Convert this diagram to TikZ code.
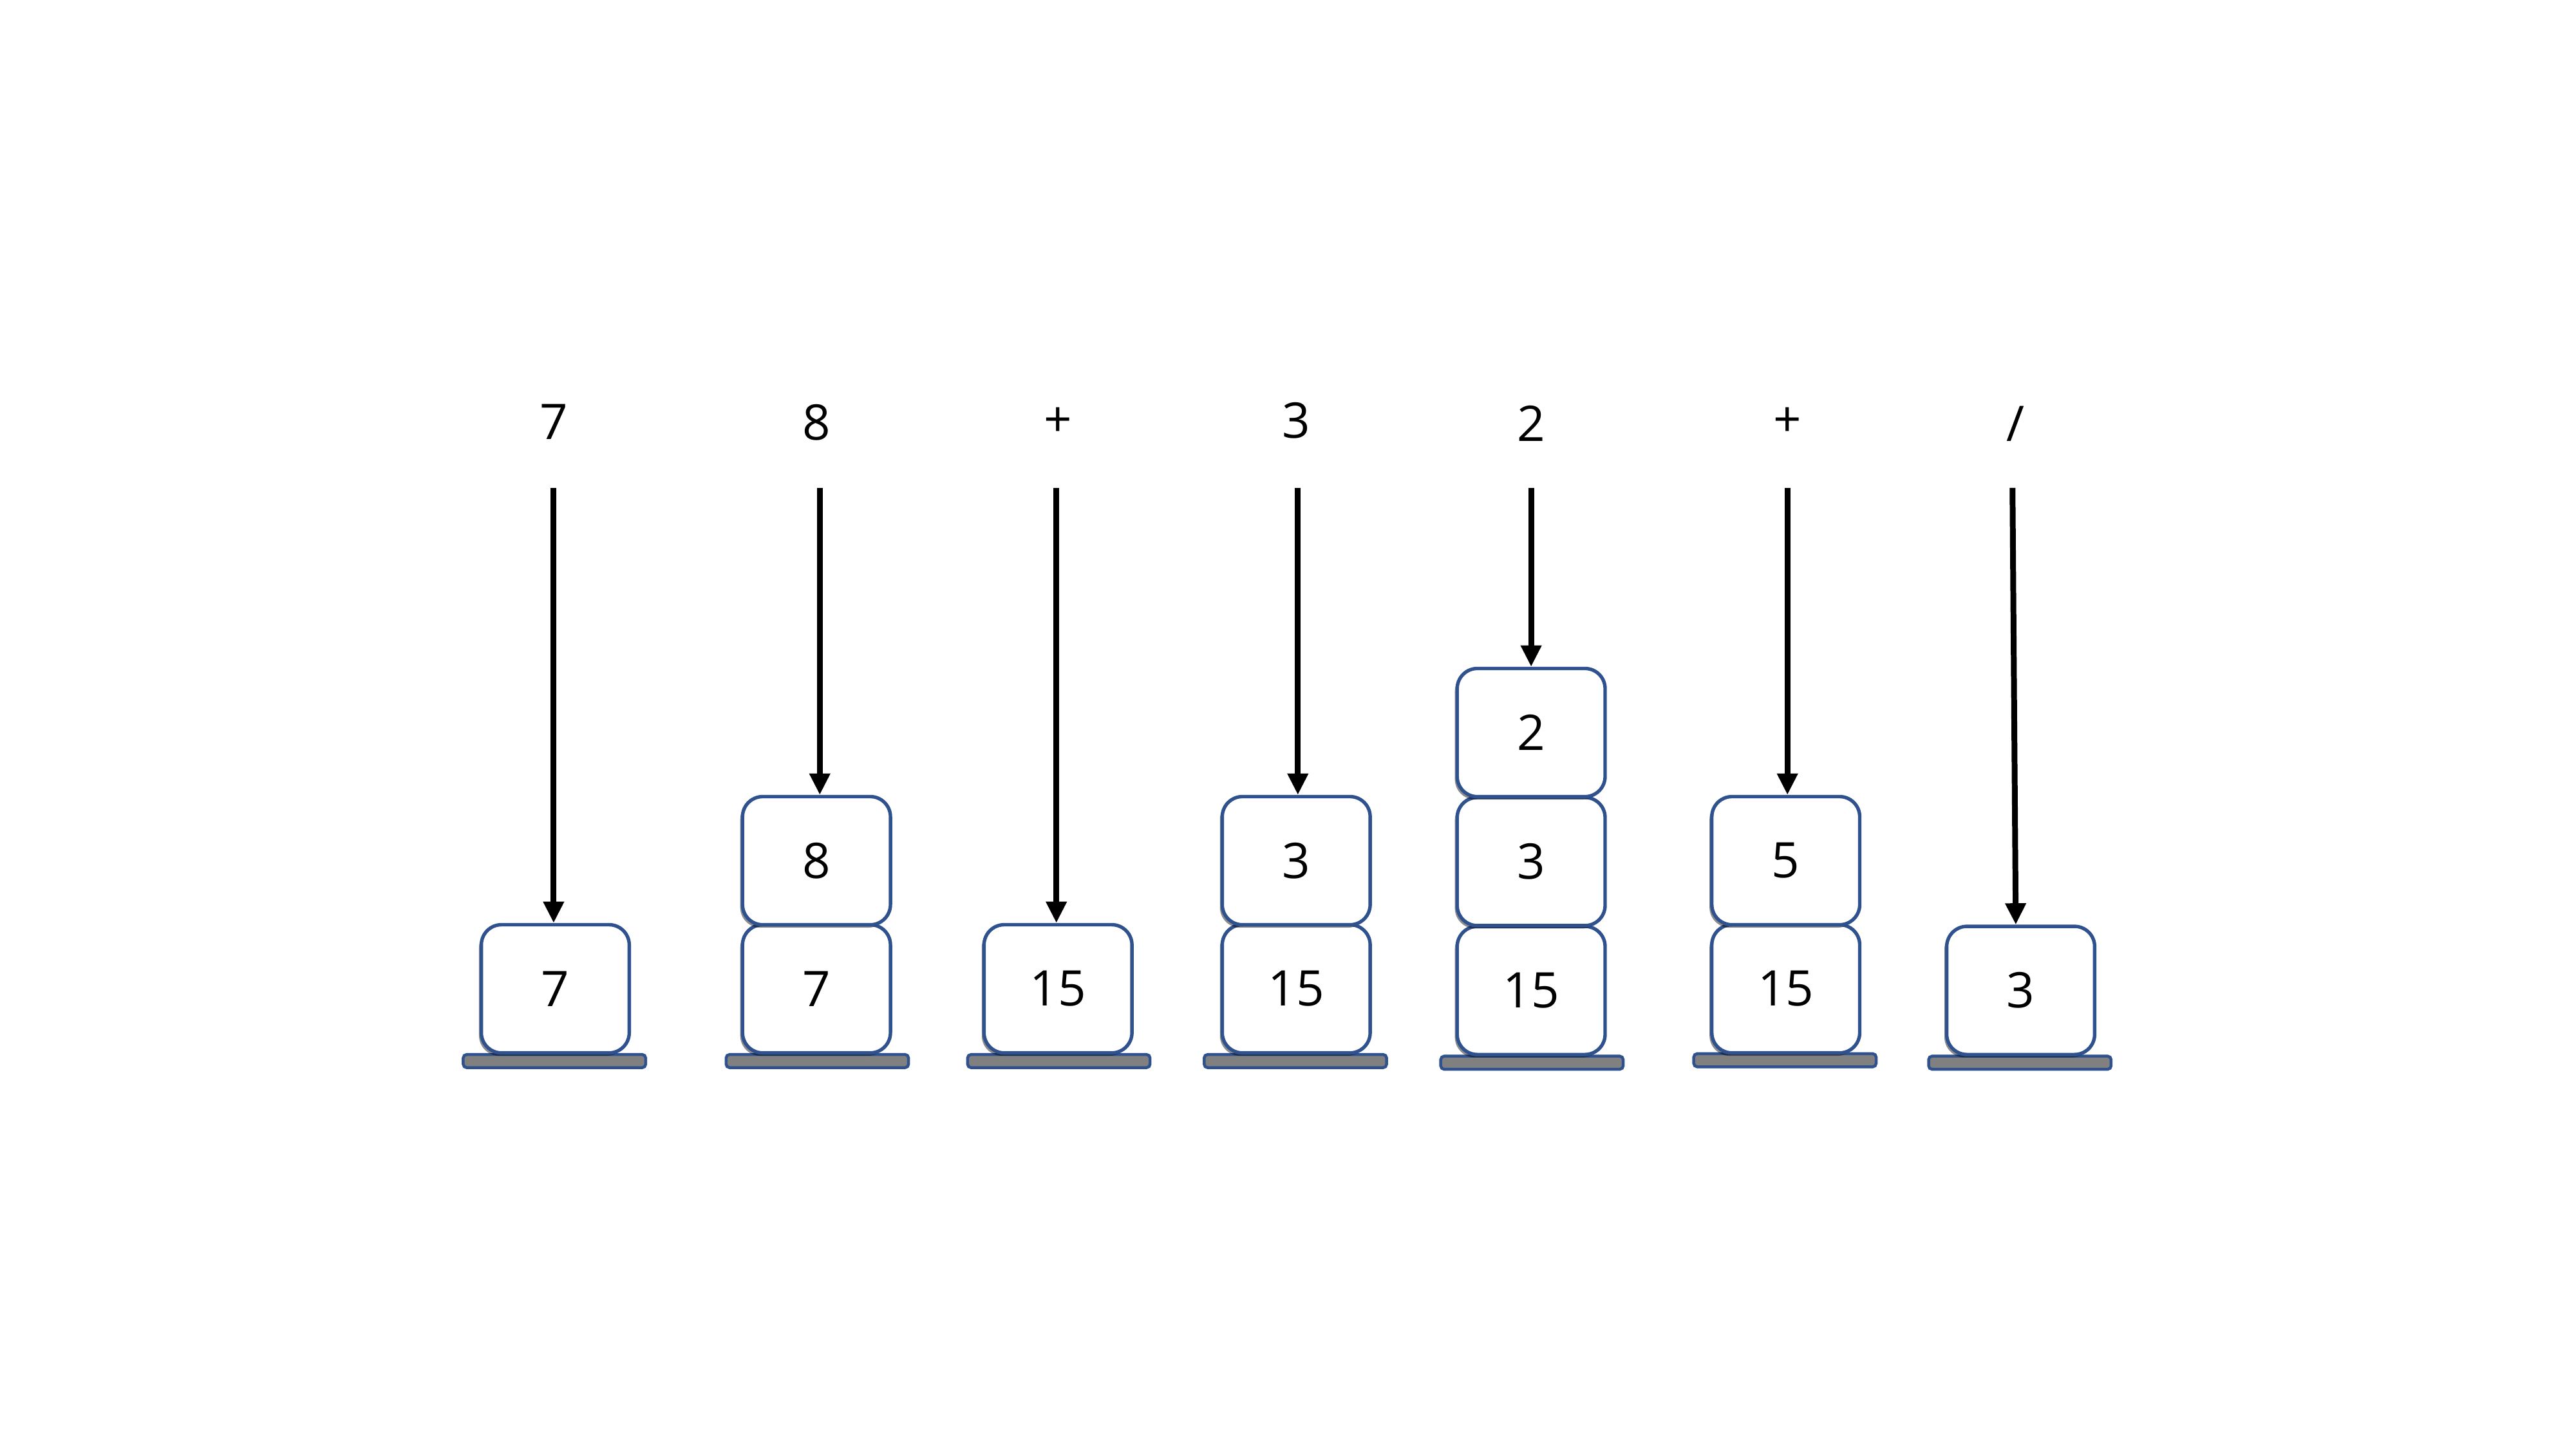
\documentclass[tikz,border=0pt]{standalone}
\usepackage{fontspec}
\setmainfont{Open Sans}
\usetikzlibrary{arrows.meta,shadows}
\definecolor{boxblue}{HTML}{2F528F}
\definecolor{basegray}{HTML}{808080}
\tikzset{
  stackbox/.style={draw=boxblue, line width=0.6pt, fill=white, rounded corners=3.5pt,
    minimum width=0.9cm, minimum height=0.78cm, inner sep=0pt,
    font=\fontsize{8.5}{10}\selectfont,
    drop shadow={shadow xshift=-0.4pt, shadow yshift=-0.5pt, opacity=0.45, fill=black}},
  basebar/.style={draw=boxblue, line width=0.5pt, fill=basegray, rounded corners=0.6pt,
    minimum width=1.11cm, minimum height=0.08cm, inner sep=0pt},
  toklabel/.style={font=\fontsize{8.5}{10}\selectfont, inner sep=0pt},
  pusharrow/.style={line width=1pt, -{Triangle[length=0.13cm,width=0.12cm]}}
}
\begin{document}
\begin{tikzpicture}[x=0.01cm,y=-0.01cm]
\useasboundingbox (0,0) rectangle (1568,882);
% bases
\node[basebar] (g1) at (337.5,646) {};
\node[basebar] (g2) at (497.5,646) {};
\node[basebar] (g3) at (644.5,646) {};
\node[basebar] (g4) at (788.5,646) {};
\node[basebar] (g5) at (932.5,647) {};
\node[basebar] (g6) at (1086.5,645.5) {};
\node[basebar] (g7) at (1229.5,647) {};
% boxes
\node[stackbox] (b1a) at (338,602) {7};
\node[stackbox] (b2a) at (497,602) {7};
\node[stackbox] (b2b) at (497,524) {8};
\node[stackbox] (b3a) at (644,602) {15};
\node[stackbox] (b4a) at (789,602) {15};
\node[stackbox] (b4b) at (789,524) {3};
\node[stackbox] (b5a) at (932,603) {15};
\node[stackbox] (b5b) at (932,524.5) {3};
\node[stackbox] (b5c) at (932,446) {2};
\node[stackbox] (b6a) at (1087,602) {15};
\node[stackbox] (b6b) at (1087,524) {5};
\node[stackbox] (b7a) at (1230,603) {3};
% labels
\node[toklabel] (t1) at (337,257) {7};
\node[toklabel] (t2) at (497,257) {8};
\node[toklabel] (t3) at (644,257) {+};
\node[toklabel] (t4) at (789,256) {3};
\node[toklabel] (t5) at (932,258) {2};
\node[toklabel] (t6) at (1088,257) {+};
\node[toklabel] (t7) at (1227,258) {/};
% arrow starts
\coordinate (s1) at (337,297);
\coordinate (s2) at (499,297);
\coordinate (s3) at (643,297);
\coordinate (s4) at (790,297);
\coordinate (s5) at (932,297);
\coordinate (s6) at (1088,297);
\coordinate (s7) at (1225,297);
% arrows
\draw[pusharrow] (s1) -- (s1 |- b1a.north);
\draw[pusharrow] (s2) -- (s2 |- b2b.north);
\draw[pusharrow] (s3) -- (s3 |- b3a.north);
\draw[pusharrow] (s4) -- (s4 |- b4b.north);
\draw[pusharrow] (s5) -- (s5 |- b5c.north);
\draw[pusharrow] (s6) -- (s6 |- b6b.north);
\draw[pusharrow] (s7) -- ([xshift=-0.03cm]b7a.north);
\end{tikzpicture}
\end{document}
